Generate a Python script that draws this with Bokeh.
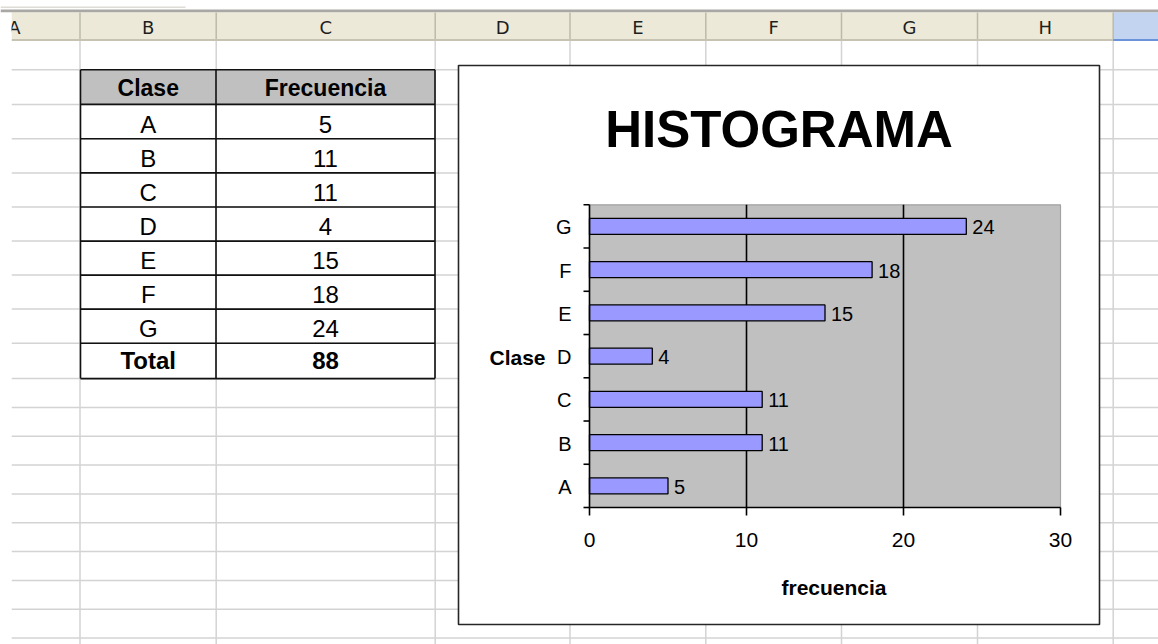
from bokeh.plotting import figure
from bokeh.models import Range1d
from bokeh.core.properties import value
from bokeh.embed import file_html
from bokeh.resources import INLINE

# ---------------- data ----------------
clases = ["A", "B", "C", "D", "E", "F", "G"]
frecuencias = [5, 11, 11, 4, 15, 18, 24]
x_ticks = [0, 10, 20, 30]
column_letters = ["A", "B", "C", "D", "E", "F", "G", "H"]
table_headers = ["Clase", "Frecuencia"]
total_label = "Total"
chart_title = "HISTOGRAMA"
x_axis_title = "frecuencia"
y_axis_title = "Clase"

# ---------------- layout (page pixel coordinates) ----------------
W, H = 1158, 644
OX, OY = 0, 0
X_END, Y_END = OX + W, OY + H

COL_LINES = [79.5, 215.7, 434.7, 569.5, 705.3, 841.0, 977.0, 1112.7]
ROW_LINES = [69.3, 103.9, 138.2, 172.4, 206.5, 240.6, 274.6, 308.6, 342.8,
             378.1, 407.0, 435.8, 464.6, 493.5, 522.3, 551.1, 579.9, 608.7, 637.5]
GRID_LEFT = 11.0
HDR_TOP, HDR_BOT = 12.0, 38.5

TBL_L, TBL_M, TBL_R = 80.0, 215.5, 434.5
BOX_L, BOX_R, BOX_T, BOX_B = 458.0, 1099.0, 65.0, 624.0
PLOT_L, PLOT_R, PLOT_T, PLOT_B = 589.0, 1060.0, 204.3, 507.0

FONT = value("Liberation Sans")
HFONT = value("DejaVu Sans")

p = figure(width=W, height=H, x_range=Range1d(OX, X_END), y_range=Range1d(Y_END, OY),
           output_backend="svg", toolbar_location=None, tools="", title=None,
           x_axis_location=None, y_axis_location=None, min_border=0,
           background_fill_color="white", border_fill_color="white",
           outline_line_color=None)
p.grid.visible = False

# ---------------- spreadsheet background ----------------
p.quad(left=[OX], right=[185.0], top=[6.0], bottom=[7.5], fill_color="#DDDCD6", line_color=None)
p.segment(x0=[GRID_LEFT] * len(ROW_LINES), x1=[X_END] * len(ROW_LINES),
          y0=ROW_LINES, y1=ROW_LINES, line_color="#D3D3D3", line_width=1.5)
p.segment(x0=COL_LINES, x1=COL_LINES, y0=[HDR_BOT] * len(COL_LINES),
          y1=[Y_END] * len(COL_LINES), line_color="#D3D3D3", line_width=1.5)

# header strip
p.quad(left=[OX], right=[X_END], top=[9.0], bottom=[HDR_TOP], fill_color="#A9A8A4", line_color=None)
p.quad(left=[GRID_LEFT], right=[COL_LINES[-1]], top=[HDR_TOP], bottom=[HDR_BOT],
       fill_color="#ECE9D8", line_color=None)
p.quad(left=[COL_LINES[-1]], right=[X_END], top=[HDR_TOP], bottom=[HDR_BOT],
       fill_color="#C3D4F0", line_color=None)
p.quad(left=[GRID_LEFT], right=[COL_LINES[-1]], top=[HDR_BOT], bottom=[40.5],
       fill_color="#C6C3B2", line_color=None)
p.quad(left=[COL_LINES[-1]], right=[X_END], top=[HDR_BOT], bottom=[40.5],
       fill_color="#6A93D9", line_color=None)
p.segment(x0=COL_LINES, x1=COL_LINES, y0=[HDR_TOP] * len(COL_LINES), y1=[HDR_BOT] * len(COL_LINES),
          line_color="#BDBAA8", line_width=1.5)

hdr_edges = [COL_LINES[0] - 131] + COL_LINES
hdr_x = [(hdr_edges[i] + hdr_edges[i + 1]) / 2 for i in range(len(column_letters))]
p.text(x=hdr_x, y=[26.5] * len(column_letters), text=column_letters, text_font=HFONT,
       text_font_size="18px", text_align="center", text_baseline="middle", text_color="#1E1E1E")
# cropped left edge of the screenshot
p.quad(left=[OX], right=[GRID_LEFT], top=[HDR_TOP], bottom=[Y_END], fill_color="white", line_color=None)

# ---------------- data table ----------------
rows = ROW_LINES[:len(clases) + 3]
p.quad(left=[TBL_L], right=[TBL_R], top=[rows[0]], bottom=[rows[1]], fill_color="#C0C0C0", line_color=None)
p.segment(x0=[TBL_L] * len(rows), x1=[TBL_R] * len(rows), y0=rows, y1=rows,
          line_color="#111111", line_width=1.6)
p.segment(x0=[TBL_L, TBL_M, TBL_R], x1=[TBL_L, TBL_M, TBL_R], y0=[rows[0]] * 3, y1=[rows[-1]] * 3,
          line_color="#111111", line_width=1.6)

cx_b = (TBL_L + TBL_M) / 2
cx_c = (TBL_M + TBL_R) / 2
mids = [(rows[i] + rows[i + 1]) / 2 for i in range(len(rows) - 1)]
p.text(x=[cx_b, cx_c], y=[mids[0] + 0.8] * 2, text=table_headers, text_font=FONT,
       text_font_style="bold", text_font_size="23px", text_align="center",
       text_baseline="middle", text_color="black")
body_y = [m + 2.5 for m in mids[1:1 + len(clases)]]
p.text(x=[cx_b] * len(clases), y=body_y, text=clases, text_font=FONT, text_font_size="24px",
       text_align="center", text_baseline="middle", text_color="black")
p.text(x=[cx_c] * len(clases), y=body_y, text=[str(v) for v in frecuencias], text_font=FONT,
       text_font_size="24px", text_align="center", text_baseline="middle", text_color="black")
p.text(x=[cx_b, cx_c], y=[mids[-1]] * 2, text=[total_label, str(sum(frecuencias))],
       text_font=FONT, text_font_style="bold", text_font_size="24px", text_align="center",
       text_baseline="middle", text_color="black")

# ---------------- chart object ----------------
p.quad(left=[BOX_L], right=[BOX_R], top=[BOX_T], bottom=[BOX_B], fill_color="white",
       line_color="#262626", line_width=1.6)
p.text(x=[(BOX_L + BOX_R) / 2], y=[128.5], text=[chart_title], text_font=FONT,
       text_font_style="bold", text_font_size="51px", text_align="center",
       text_baseline="middle", text_color="black")

# value / category ranges mapped onto the plot area
xmin, xmax = x_ticks[0], x_ticks[-1]
n = len(clases)
px_x = (PLOT_R - PLOT_L) / (xmax - xmin)
px_y = (PLOT_B - PLOT_T) / n
vx0 = xmin - (PLOT_L - OX) / px_x
vy0 = -0.5 - (Y_END - PLOT_B) / px_y
p.extra_x_ranges = {"val": Range1d(vx0, vx0 + W / px_x)}
p.extra_y_ranges = {"cat": Range1d(vy0, vy0 + H / px_y)}
kw = dict(x_range_name="val", y_range_name="cat")
idx = list(range(n))
lo, hi = -0.5, n - 0.5

p.quad(left=[xmin], right=[xmax], bottom=[lo], top=[hi], fill_color="#C0C0C0",
       line_color="#A2A2A2", line_width=1.2, **kw)
inner = x_ticks[1:-1]
p.segment(x0=inner, x1=inner, y0=[lo] * len(inner), y1=[hi] * len(inner),
          line_color="black", line_width=1.6, **kw)

p.hbar(y=idx, left=0, right=frecuencias, height=0.37, fill_color="#9999FF",
       line_color="black", line_width=1.3, **kw)

# axes
p.segment(x0=[xmin, xmin], y0=[lo, lo], x1=[xmin, xmax], y1=[hi, lo],
          line_color="black", line_width=1.6, **kw)
bounds = [i - 0.5 for i in range(n + 1)]
p.segment(x0=[xmin - 6 / px_x] * len(bounds), x1=[xmin] * len(bounds), y0=bounds, y1=bounds,
          line_color="black", line_width=1.6, **kw)
p.segment(x0=x_ticks, x1=x_ticks, y0=[lo] * len(x_ticks), y1=[lo - 8 / px_y] * len(x_ticks),
          line_color="black", line_width=1.6, **kw)

# labels
p.text(x=[xmin] * n, y=idx, text=clases, x_offset=-18, y_offset=1, text_font=FONT,
       text_font_size="20px", text_align="right", text_baseline="middle", text_color="black", **kw)
p.text(x=[xmin], y=[(n - 1) / 2], text=[y_axis_title], x_offset=-44, y_offset=1, text_font=FONT,
       text_font_style="bold", text_font_size="21px", text_align="right", text_baseline="middle",
       text_color="black", **kw)
p.text(x=x_ticks, y=[lo] * len(x_ticks), text=[str(t) for t in x_ticks], y_offset=32,
       text_font=FONT, text_font_size="21px", text_align="center", text_baseline="middle",
       text_color="black", **kw)
p.text(x=frecuencias, y=idx, text=[str(v) for v in frecuencias], x_offset=6, y_offset=1,
       text_font=FONT, text_font_size="20px", text_align="left", text_baseline="middle",
       text_color="black", **kw)
p.text(x=[(xmin + xmax) / 2], y=[lo], text=[x_axis_title], x_offset=9, y_offset=80,
       text_font=FONT, text_font_style="bold", text_font_size="21px", text_align="center",
       text_baseline="middle", text_color="black", **kw)

open("out.html", "w").write(file_html(p, INLINE))
